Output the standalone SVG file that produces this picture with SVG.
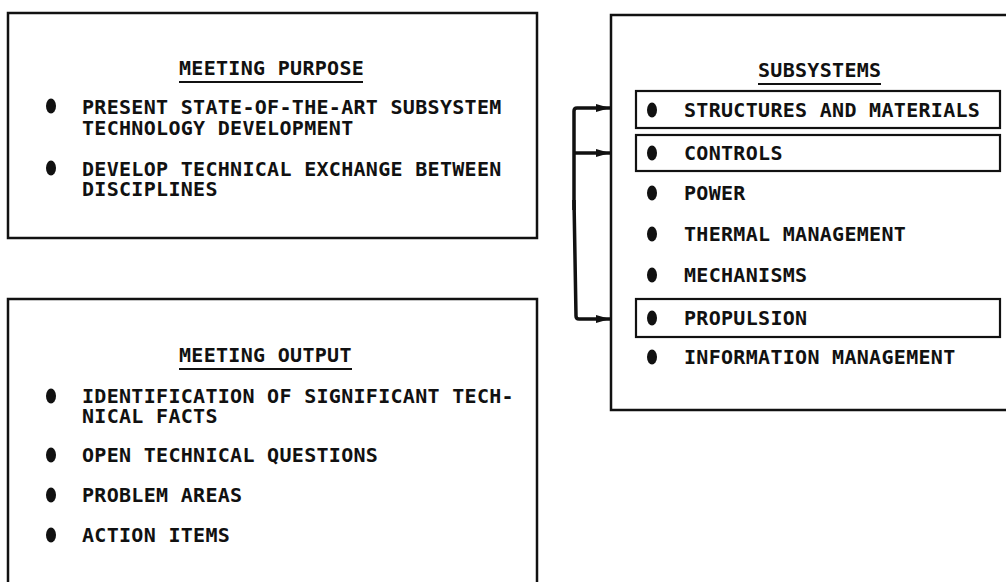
<svg xmlns="http://www.w3.org/2000/svg" width="1006" height="582" viewBox="0 0 1006 582">
  <style>
    .box { fill: none; stroke: #111; stroke-width: 2.5; }
    .hl { fill: none; stroke: #111; stroke-width: 2.2; }
    .t { font-family: "DejaVu Sans Mono", "Liberation Mono", monospace; font-weight: bold; font-size: 20px; letter-spacing: 0.3px; fill: #111; }
    .ul { stroke: #111; stroke-width: 2; }
    .dot { fill: #111; }
    .wire { fill: none; stroke: #111; stroke-width: 3.5; stroke-linejoin: round; }
  </style>
  <defs>
    <marker id="head" viewBox="0 0 14 10" refX="14" refY="5" markerWidth="14" markerHeight="10" markerUnits="userSpaceOnUse" orient="auto">
      <path d="M0,1 L14,5 L0,9 Z" fill="#111"/>
    </marker>
  </defs>
  <rect width="1006" height="582" fill="#fff"/>

  <!-- Meeting purpose panel -->
  <g id="meeting-purpose">
    <rect class="box" x="8" y="13" width="529" height="225"/>
    <text class="t" x="179" y="75">MEETING PURPOSE</text>
    <line class="ul" x1="179" y1="82" x2="363" y2="82"/>
    <ellipse class="dot" cx="51" cy="106" rx="5" ry="7.5"/>
    <text class="t" x="82" y="114">PRESENT STATE-OF-THE-ART SUBSYSTEM<tspan x="82" dy="21">TECHNOLOGY DEVELOPMENT</tspan></text>
    <ellipse class="dot" cx="51" cy="168" rx="5" ry="7.5"/>
    <text class="t" x="82" y="176">DEVELOP TECHNICAL EXCHANGE BETWEEN<tspan x="82" dy="20">DISCIPLINES</tspan></text>
  </g>

  <!-- Meeting output panel -->
  <g id="meeting-output">
    <rect class="box" x="8" y="299" width="529" height="295"/>
    <text class="t" x="179" y="362">MEETING OUTPUT</text>
    <line class="ul" x1="179" y1="369" x2="352" y2="369"/>
    <ellipse class="dot" cx="51" cy="396" rx="5" ry="7.5"/>
    <text class="t" x="82" y="403">IDENTIFICATION OF SIGNIFICANT TECH-<tspan x="82" dy="20">NICAL FACTS</tspan></text>
    <ellipse class="dot" cx="51" cy="455" rx="5" ry="7.5"/>
    <text class="t" x="82" y="462">OPEN TECHNICAL QUESTIONS</text>
    <ellipse class="dot" cx="51" cy="495" rx="5" ry="7.5"/>
    <text class="t" x="82" y="502">PROBLEM AREAS</text>
    <ellipse class="dot" cx="51" cy="535" rx="5" ry="7.5"/>
    <text class="t" x="82" y="542">ACTION ITEMS</text>
  </g>

  <!-- Subsystems panel -->
  <g id="subsystems">
    <rect class="box" x="611" y="15" width="410" height="395"/>
    <text class="t" x="758" y="77">SUBSYSTEMS</text>
    <line class="ul" x1="758" y1="84" x2="881" y2="84"/>

    <rect class="hl" x="636" y="91" width="364" height="37"/>
    <ellipse class="dot" cx="652" cy="110" rx="5" ry="7.5"/>
    <text class="t" x="684" y="117">STRUCTURES AND MATERIALS</text>

    <rect class="hl" x="636" y="135" width="364" height="36"/>
    <ellipse class="dot" cx="652" cy="153" rx="5" ry="7.5"/>
    <text class="t" x="684" y="160">CONTROLS</text>

    <ellipse class="dot" cx="652" cy="193" rx="5" ry="7.5"/>
    <text class="t" x="684" y="200">POWER</text>

    <ellipse class="dot" cx="652" cy="234" rx="5" ry="7.5"/>
    <text class="t" x="684" y="241">THERMAL MANAGEMENT</text>

    <ellipse class="dot" cx="652" cy="275" rx="5" ry="7.5"/>
    <text class="t" x="684" y="282">MECHANISMS</text>

    <rect class="hl" x="636" y="299" width="364" height="38"/>
    <ellipse class="dot" cx="652" cy="318" rx="5" ry="7.5"/>
    <text class="t" x="684" y="325">PROPULSION</text>

    <ellipse class="dot" cx="652" cy="357" rx="5" ry="7.5"/>
    <text class="t" x="684" y="364">INFORMATION MANAGEMENT</text>
  </g>

  <!-- Connectors into the highlighted subsystems -->
  <g id="connectors">
    <path class="wire" d="M 574 210 L 574 111 Q 574 108 577 108 L 610 108" marker-end="url(#head)"/>
    <path class="wire" d="M 575 153 L 610 153" marker-end="url(#head)"/>
    <path class="wire" d="M 574 200 L 576 316 Q 576 319 579 319 L 610 319" marker-end="url(#head)"/>
  </g>
</svg>
